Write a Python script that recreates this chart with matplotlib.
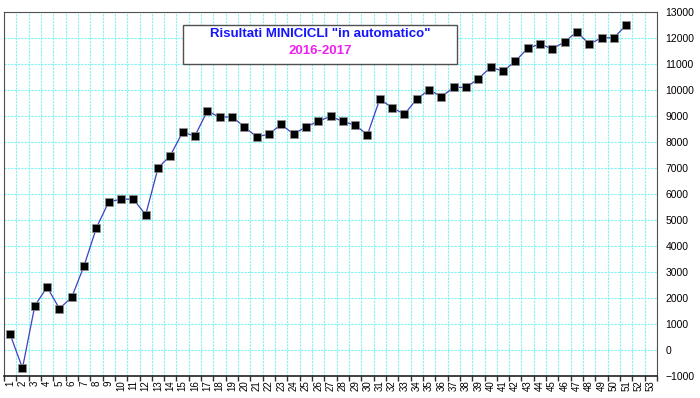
import matplotlib
matplotlib.use("Agg")
import matplotlib.pyplot as plt
from matplotlib.patches import FancyBboxPatch
import numpy as np

plt.rcParams["font.family"] = ["Liberation Sans", "DejaVu Sans"]

rounds = list(range(1, 52))
results = [
    600, -700, 1700, 2420, 1590, 2030, 3240, 4700, 5700, 5800,
    5800, 5200, 7000, 7480, 8380, 8230, 9200, 8950, 8970, 8590,
    8200, 8300, 8680, 8300, 8580, 8790, 8990, 8790, 8650, 8280,
    9650, 9320, 9070, 9650, 10010, 9740, 10100, 10100, 10430, 10880,
    10720, 11110, 11600, 11770, 11580, 11850, 12240, 11760, 12010, 12010,
    12500,
]
x_labels = [str(i) for i in range(1, 54)]
title_main = 'Risultati MINICICLI "in automatico"'
title_years = "2016-2017"

W, H = 700, 398
fig = plt.figure(figsize=(W / 100, H / 100), dpi=100)
ax = fig.add_axes([4 / W, 22 / H, 653 / W, 364 / H])

ax.plot(rounds, results, color="#4040c0", linewidth=0.9, zorder=3)
ax.plot(rounds, results, linestyle="none", marker="s", markersize=5.6,
        markerfacecolor="black", markeredgecolor="#909090", markeredgewidth=0.5,
        zorder=4)

ax.set_xlim(0.5, 53.5)
ax.set_ylim(-1000, 13000)

# category boundaries carry the grid, labels sit at the centres
ax.set_xticks(np.arange(0.5, 54.0, 1.0))
ax.set_xticklabels([])
ax.set_xticks(np.arange(1, 54), minor=True)
ax.set_xticklabels(x_labels, minor=True, rotation=90, fontsize=7)
ax.tick_params(axis="x", which="major", direction="out", length=3.5,
               color="#303030", width=1)
ax.tick_params(axis="x", which="minor", length=0, pad=3)

ax.set_yticks(np.arange(-1000, 13001, 1000))
ax.yaxis.tick_right()
ax.tick_params(axis="y", which="major", length=0, pad=6, labelsize=7.5)

ax.grid(True, which="major", color="#80f4f4", linestyle=(0, (2, 1)),
        linewidth=0.8, zorder=0)

for side in ["left", "top", "right", "bottom"]:
    ax.spines[side].set_color("#505050")
ax.spines["bottom"].set_color("#202020")
ax.spines["bottom"].set_linewidth(1.2)

box = FancyBboxPatch((183 / W, 1 - 64 / H), 274 / W, 39 / H,
                     boxstyle="square,pad=0", transform=fig.transFigure,
                     facecolor="white", edgecolor="#505050", linewidth=1.0,
                     zorder=5)
fig.patches.append(box)
fig.text(320 / W, 1 - 34 / H, title_main, ha="center", va="center",
         color="#1414ff", fontsize=9.5, fontweight="bold", zorder=6)
fig.text(320 / W, 1 - 51 / H, title_years, ha="center", va="center",
         color="#f020f0", fontsize=9.5, fontweight="bold", zorder=6)

fig.savefig("out.png", dpi=100, facecolor="white")
